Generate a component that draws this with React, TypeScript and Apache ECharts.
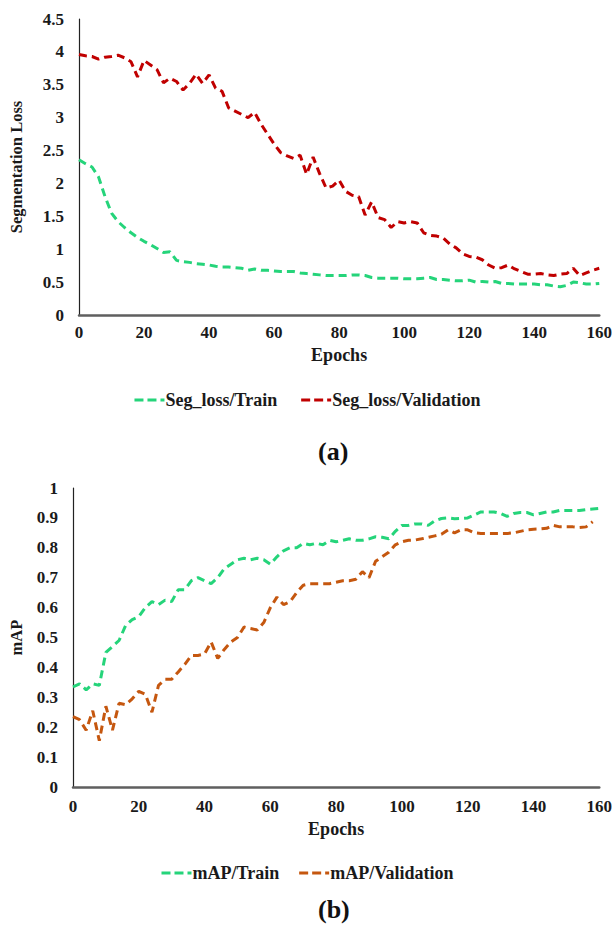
import React, { useEffect, useRef } from "react";
import * as echarts from "echarts";

const epochs: number[] = Array.from({ length: 81 }, (_, i) => i * 2);

const segLossTrain: number[] = [
  2.36, 2.3, 2.25, 2.1, 1.8, 1.55, 1.42, 1.33, 1.25, 1.18, 1.12, 1.07, 1.01, 0.95, 0.96, 0.83, 0.81, 0.8, 0.78, 0.77,
  0.76, 0.74, 0.73, 0.73, 0.72, 0.71, 0.68, 0.7, 0.68, 0.68, 0.67, 0.66, 0.66, 0.66, 0.64, 0.63, 0.62, 0.61, 0.6, 0.6,
  0.6, 0.6, 0.61, 0.61, 0.6, 0.57, 0.56, 0.56, 0.56, 0.56, 0.55, 0.55, 0.55, 0.56, 0.57, 0.54, 0.54, 0.53, 0.52, 0.52,
  0.53, 0.5, 0.51, 0.5, 0.51, 0.48, 0.48, 0.47, 0.47, 0.47, 0.47, 0.46, 0.46, 0.44, 0.43, 0.45, 0.5, 0.49, 0.47, 0.47,
  0.48,
];

const segLossVal: number[] = [
  3.96, 3.94, 3.93, 3.89, 3.92, 3.93, 3.95, 3.91, 3.85, 3.62, 3.87, 3.8, 3.73, 3.53, 3.6, 3.55, 3.42, 3.52, 3.66, 3.52,
  3.65, 3.45, 3.4, 3.15, 3.1, 3.05, 3.0, 3.08, 2.9, 2.75, 2.6, 2.47, 2.42, 2.38, 2.43, 2.14, 2.4, 2.15, 1.93, 1.96,
  2.05, 1.88, 1.82, 1.8, 1.52, 1.72, 1.48, 1.45, 1.33, 1.42, 1.4, 1.42, 1.4, 1.25, 1.21, 1.2, 1.17, 1.08, 1.02, 0.93,
  0.89, 0.88, 0.84, 0.76, 0.71, 0.72, 0.76, 0.7, 0.66, 0.62, 0.62, 0.63, 0.61, 0.6, 0.62, 0.63, 0.71, 0.6, 0.64, 0.68,
  0.71,
];

const mapTrain: number[] = [
  0.335, 0.345, 0.325, 0.345, 0.34, 0.45, 0.47, 0.49, 0.54, 0.56, 0.57, 0.6, 0.62, 0.61, 0.625, 0.62, 0.66, 0.66, 0.69, 0.7,
  0.69, 0.68, 0.7, 0.73, 0.745, 0.76, 0.765, 0.76, 0.765, 0.76, 0.745, 0.77, 0.79, 0.8, 0.8, 0.815, 0.81, 0.815, 0.81, 0.825,
  0.82, 0.825, 0.83, 0.825, 0.825, 0.83, 0.837, 0.835, 0.83, 0.855, 0.875, 0.875, 0.88, 0.88, 0.875, 0.89, 0.898, 0.9, 0.897, 0.898,
  0.9, 0.91, 0.92, 0.92, 0.92, 0.915, 0.905, 0.915, 0.918, 0.918, 0.91, 0.915, 0.92, 0.92, 0.925, 0.925, 0.925, 0.925, 0.928, 0.93,
  0.932,
];

const mapVal: (number | null)[] = [
  0.235, 0.225, 0.19, 0.255, 0.155, 0.27, 0.19, 0.28, 0.275, 0.295, 0.32, 0.31, 0.25, 0.34, 0.36, 0.36, 0.385, 0.41, 0.44, 0.44,
  0.445, 0.485, 0.43, 0.46, 0.485, 0.5, 0.535, 0.53, 0.525, 0.55, 0.6, 0.635, 0.61, 0.62, 0.65, 0.675, 0.68, 0.68, 0.68, 0.68,
  0.685, 0.69, 0.69, 0.695, 0.72, 0.7, 0.755, 0.77, 0.785, 0.81, 0.82, 0.825, 0.826, 0.83, 0.835, 0.84, 0.845, 0.86, 0.85, 0.86,
  0.86, 0.85, 0.848, 0.848, 0.848, 0.848, 0.848, 0.85, 0.855, 0.86, 0.862, 0.863, 0.865, 0.875, 0.87, 0.87, 0.87, 0.868, 0.87, 0.887,
  null,
];

const FONT = "'Liberation Serif', 'Times New Roman', serif";
const GREEN = "#25D47A";
const RED = "#C00000";
const ORANGE = "#C5570F";
const LEGEND_ICON = "path://M0,0h9v3h-9z M13,0h9v3h-9z M26,0h4v3h-4z";

function pairs(vals: (number | null)[]) {
  return epochs.map((e, i) => [e, vals[i]]);
}

export default function App() {
  const ref = useRef<HTMLDivElement>(null);
  useEffect(() => {
    document.body.style.margin = "0";
    const chart = echarts.init(ref.current!, null, { renderer: "svg" });
    const label = { fontFamily: FONT, fontWeight: "bold" as const, fontSize: 17, color: "#1a1a1a" };
    const xAxisBase = (gridIndex: number, margin: number, gap: number) => ({
      type: "value" as const,
      gridIndex,
      min: 0,
      max: 160,
      interval: 20,
      name: "Epochs",
      nameLocation: "middle" as const,
      nameGap: gap,
      nameTextStyle: { ...label, fontSize: 18 },
      axisLine: { show: true, lineStyle: { color: "#5f5f5f", width: 2.5 } },
      axisTick: { show: false },
      splitLine: { show: false },
      axisLabel: { ...label, margin },
    });
    const yAxisBase = (gridIndex: number, max: number, interval: number, name: string, gap: number) => ({
      type: "value" as const,
      gridIndex,
      min: 0,
      max,
      interval,
      name,
      nameLocation: "middle" as const,
      nameGap: gap,
      nameTextStyle: { ...label, fontSize: 16.5 },
      axisLine: { show: true, lineStyle: { color: "#222", width: 1.2 } },
      axisTick: { show: false },
      splitLine: { show: false },
      axisLabel: { ...label, margin: 15 },
    });
    const line = (name: string, color: string, data: any[], idx: number) => ({
      name,
      type: "line" as const,
      xAxisIndex: idx,
      yAxisIndex: idx,
      data,
      symbol: "none",
      showSymbol: false,
      connectNulls: false,
      lineStyle: { color, width: 3, type: [8, 5] as any },
      itemStyle: { color },
    });
    const legendBase = {
      left: "center",
      icon: LEGEND_ICON,
      itemWidth: 30,
      itemHeight: 3,
      textStyle: { ...label, fontSize: 18, padding: [0, 0, 0, -4] },
    };
    chart.setOption({
      animation: false,
      backgroundColor: "#ffffff",
      grid: [
        { left: 73, right: 13, top: 19, height: 296 },
        { left: 73, right: 15, top: 488, height: 299 },
      ],
      xAxis: [xAxisBase(0, 9, 31), xAxisBase(1, 11, 33)],
      yAxis: [
        yAxisBase(0, 4.5, 0.5, "Segmentation Loss", 54),
        yAxisBase(1, 1, 0.1, "mAP", 48),
      ],
      legend: [
        { ...legendBase, data: ["Seg_loss/Train", "Seg_loss/Validation"], top: 386, itemGap: 24 },
        { ...legendBase, data: ["mAP/Train", "mAP/Validation"], top: 859, itemGap: 20 },
      ],
      series: [
        line("Seg_loss/Train", GREEN, pairs(segLossTrain), 0),
        line("Seg_loss/Validation", RED, pairs(segLossVal), 0),
        line("mAP/Train", GREEN, pairs(mapTrain), 1),
        line("mAP/Validation", ORANGE, pairs(mapVal), 1),
      ],
      graphic: [
        {
          type: "text",
          left: 318,
          top: 438,
          style: { text: "(a)", font: `bold 26px ${FONT}`, fill: "#111" },
        },
        {
          type: "text",
          left: 318,
          top: 896,
          style: { text: "(b)", font: `bold 26px ${FONT}`, fill: "#111" },
        },
      ],
    });
    return () => chart.dispose();
  }, []);
  return <div ref={ref} style={{ width: 615, height: 929, position: "absolute", left: 0, top: 0 }} />;
}
